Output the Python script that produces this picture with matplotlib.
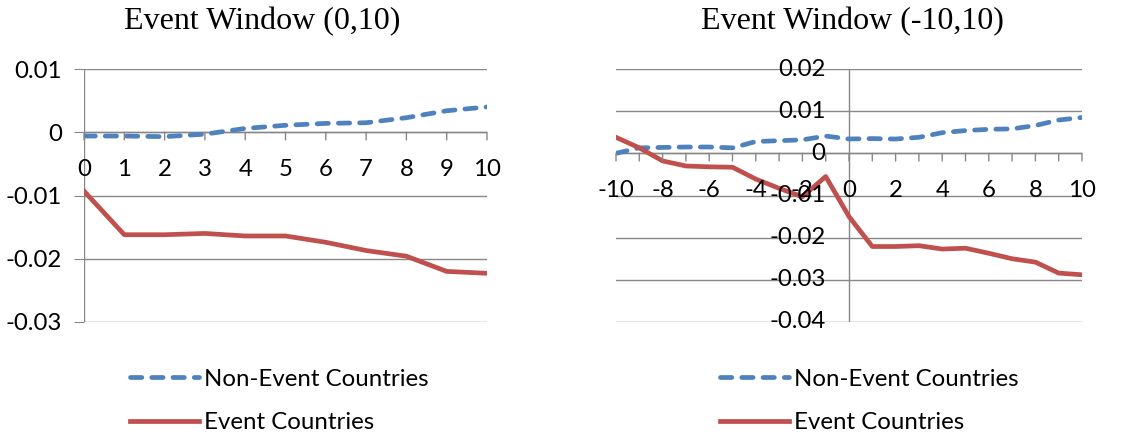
import matplotlib
matplotlib.use("Agg")
import matplotlib.pyplot as plt
from matplotlib.lines import Line2D
import numpy as np

# cumulative abnormal returns, window (0,10)
days_a = list(range(0, 11))
non_event_a = [-0.0006, -0.0006, -0.0007, -0.0003, 0.0006, 0.0011,
               0.0014, 0.0015, 0.0023, 0.0034, 0.0040]
event_a = [-0.0093, -0.0162, -0.0162, -0.0160, -0.0164, -0.0164,
           -0.0174, -0.0187, -0.0196, -0.0220, -0.0223]

# window (-10,10)
days_b = list(range(-10, 11))
non_event_b = [0.0000, 0.0013, 0.0014, 0.0015, 0.0015, 0.0013, 0.0028,
               0.0030, 0.0032, 0.0041, 0.0034, 0.0035, 0.0034, 0.0038,
               0.0049, 0.0054, 0.0057, 0.0058, 0.0066, 0.0079, 0.0085]
event_b = [0.0038, 0.0013, -0.0018, -0.0030, -0.0032, -0.0033, -0.0061,
           -0.0083, -0.0103, -0.0055, -0.0150, -0.0221, -0.0221, -0.0219,
           -0.0227, -0.0225, -0.0237, -0.0250, -0.0258, -0.0284, -0.0288]

titles = ["Event Window (0,10)", "Event Window (-10,10)"]
series_names = ["Non-Event Countries", "Event Countries"]

BLUE = "#4F81BD"
RED = "#C0504D"
GRID = "#878787"
FONT = "Lato"
FS = 17.3
LW = 3.4

fig = plt.figure(figsize=(11.34, 4.37), dpi=100)

ax1 = fig.add_axes([84/1134, 1-322/437, 403/1134, 253/437])
ax2 = fig.add_axes([616/1134, 1-322/437, 466/1134, 253/437])

dash = (0, (2.4, 2.1))


def style(ax, xlim, yticks, xticks, xlabels):
    ax.set_xlim(*xlim)
    ax.set_ylim(yticks[0], yticks[-1])
    for s in ["top", "right", "bottom", "left"]:
        ax.spines[s].set_visible(False)
    for y in yticks:
        ax.axhline(y, color=GRID, lw=1.0, zorder=0)
    # axis lines through zero
    ax.axhline(0, color=GRID, lw=1.0, zorder=1)
    ax.axvline(0, color=GRID, lw=1.0, zorder=1)
    ax.set_yticks(yticks)
    ax.set_yticklabels(["0" if y == 0 else f"{y:g}" for y in yticks])
    ax.tick_params(axis="y", length=7, color=GRID, pad=9,
                   labelsize=FS)
    ax.set_xticks([])
    # x tick marks hang from the zero line
    for x in xticks:
        ax.annotate("", (x, 0), xytext=(0, -5.5), textcoords="offset points",
                    arrowprops=dict(arrowstyle="-", color=GRID, lw=1.0,
                                    shrinkA=0, shrinkB=0))
    for x, lab in xlabels:
        ax.annotate(lab, (x, 0), xytext=(0, -27), textcoords="offset points",
                    ha="center", va="center", fontsize=FS, family=FONT,
                    annotation_clip=False)
    for lab in ax.get_yticklabels():
        lab.set_family(FONT)


ax1.plot(days_a, non_event_a, color=BLUE, lw=LW, ls=dash,
         dash_capstyle="round", zorder=3)
ax1.plot(days_a, event_a, color=RED, lw=LW, zorder=3)
style(ax1, (0, 10), [-0.03, -0.02, -0.01, 0, 0.01], days_a,
      [(d, str(d)) for d in days_a])

ax2.plot(days_b, non_event_b, color=BLUE, lw=LW, ls=dash,
         dash_capstyle="round", zorder=3)
ax2.plot(days_b, event_b, color=RED, lw=LW, zorder=3)
style(ax2, (-10, 10), [-0.04, -0.03, -0.02, -0.01, 0, 0.01, 0.02], days_b,
      [(d, str(d)) for d in days_b if d % 2 == 0])
# right panel: y labels sit beside the vertical axis at x = 0
ax2.tick_params(axis="y", length=0, pad=0)
ax2.set_yticklabels([])
for y in [-0.04, -0.03, -0.02, -0.01, 0, 0.01, 0.02]:
    ax2.annotate("0" if y == 0 else f"{y:g}", (0, y), xytext=(-17, 0),
                 textcoords="offset points", ha="right", va="center",
                 fontsize=FS, family=FONT)

fig.text(262/1134, 1-22/437, titles[0], ha="center", va="center",
         fontsize=23, family="Liberation Serif")
fig.text(852/1134, 1-22/437, titles[1], ha="center", va="center",
         fontsize=23, family="Liberation Serif")

handles = [Line2D([], [], color=BLUE, lw=LW, ls=dash, dash_capstyle="round"),
           Line2D([], [], color=RED, lw=LW)]
for x0 in [120/1134, 710/1134]:
    fig.legend(handles, series_names, loc="upper left",
               bbox_to_anchor=(x0, 1-359/437), frameon=False,
               prop={"family": FONT, "size": FS}, handlelength=2.9,
               handletextpad=0.2, labelspacing=0.95, borderaxespad=0)

fig.savefig("out.png", dpi=100)
